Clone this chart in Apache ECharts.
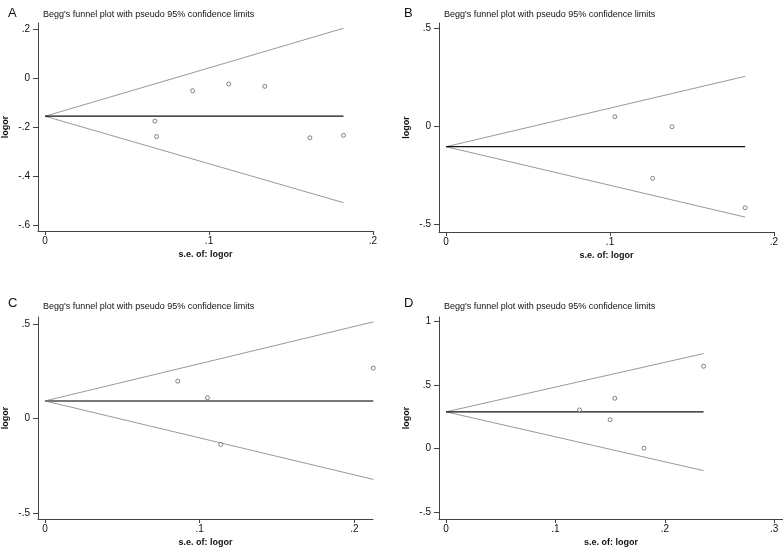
<!DOCTYPE html>
<html>
<head>
<meta charset="utf-8">
<script src="https://cdn.jsdelivr.net/npm/echarts@6/dist/echarts.min.js"></script>
<style>
html,body{margin:0;padding:0;background:#fff;}
#main{width:783px;height:548px;}
</style>
</head>
<body>
<div id="main"></div>
<script>
// ---- data ----
const panelLetters = ['A', 'B', 'C', 'D'];
const plotTitle = "Begg's funnel plot with pseudo 95% confidence limits";
const xAxisTitle = 's.e. of: logor';
const yAxisTitle = 'logor';

// Panel A
const seA = [0.067, 0.068, 0.090, 0.112, 0.134, 0.1615, 0.182];
const logorA = [-0.176, -0.239, -0.052, -0.0245, -0.034, -0.244, -0.234];
const funnelA = [-0.156, 0.182, 0.203, -0.509]; // pooled, max se, upper end, lower end
const xTicksA = [0, 0.1, 0.2];
const yTicksA = [-0.6, -0.4, -0.2, 0, 0.2];

// Panel B
const seB = [0.103, 0.1378, 0.126, 0.1824];
const logorB = [0.051, 0.0, -0.263, -0.413];
const funnelB = [-0.102, 0.1824, 0.257, -0.461];
const xTicksB = [0, 0.1, 0.2];
const yTicksB = [-0.5, 0, 0.5];

// Panel C
const seC = [0.0858, 0.105, 0.1136, 0.2122];
const logorC = [0.198, 0.110, -0.138, 0.267];
const funnelC = [0.093, 0.2122, 0.512, -0.323];
const xTicksC = [0, 0.1, 0.2];
const yTicksC = [-0.5, 0, 0.5];

// Panel D
const seD = [0.122, 0.1543, 0.150, 0.181, 0.2354];
const logorD = [0.303, 0.395, 0.226, 0.002, 0.647];
const funnelD = [0.288, 0.2354, 0.747, -0.175];
const xTicksD = [0, 0.1, 0.2, 0.3];
const yTicksD = [-0.5, 0, 0.5, 1];

// ---- layout (positions only) ----
const layout = [
  {left: 38, top: 23, width: 335, height: 208, xMin: -0.0043, xMax: 0.2, yMin: -0.6245, yMax: 0.2245, lx: 3, ly: 2, tx: 38, ty: 5, hColor: '#111', hWidth: 1.2},
  {left: 439, top: 23, width: 335, height: 209, xMin: -0.0043, xMax: 0.2, yMin: -0.537, yMax: 0.529, lx: 399, ly: 2, tx: 439, ty: 5, hColor: '#111', hWidth: 1.2},
  {left: 38, top: 317, width: 335, height: 207, xMin: -0.0045, xMax: 0.212, yMin: -0.533, yMax: 0.538, lx: 3, ly: 292, tx: 38, ty: 297, hColor: '#777', hWidth: 2},
  {left: 439, top: 317, width: 344, height: 208, xMin: -0.0064, xMax: 0.308, yMin: -0.556, yMax: 1.035, lx: 399, ly: 292, tx: 439, ty: 297, hColor: '#111', hWidth: 1.2}
];

const panels = [
  {se: seA, logor: logorA, funnel: funnelA, xt: xTicksA, yt: yTicksA},
  {se: seB, logor: logorB, funnel: funnelB, xt: xTicksB, yt: yTicksB},
  {se: seC, logor: logorC, funnel: funnelC, xt: xTicksC, yt: yTicksC},
  {se: seD, logor: logorD, funnel: funnelD, xt: xTicksD, yt: yTicksD}
];

function fmt(v) {
  if (v === 0) return '0';
  return String(v).replace('0.', '.');
}

const FONT = '"Liberation Sans", Arial, sans-serif';
const grids = [], xAxes = [], yAxes = [], series = [], titles = [];

panels.forEach((p, i) => {
  const L = layout[i];
  grids.push({left: L.left, top: L.top, width: L.width, height: L.height, containLabel: false});
  titles.push({text: panelLetters[i], left: L.lx, top: L.ly, textStyle: {fontFamily: FONT, fontSize: 13, fontWeight: 'normal', color: '#111'}});
  titles.push({text: plotTitle, left: L.tx, top: L.ty, textStyle: {fontFamily: FONT, fontSize: 9, fontWeight: 'normal', color: '#111'}});
  xAxes.push({
    type: 'value', gridIndex: i, min: L.xMin, max: L.xMax,
    name: xAxisTitle, nameLocation: 'middle', nameGap: 19,
    nameTextStyle: {fontFamily: FONT, fontSize: 9, color: '#111', fontWeight: 'bold'},
    axisLine: {show: true, onZero: false, lineStyle: {color: '#444', width: 1}},
    axisTick: {show: true, length: 4, customValues: p.xt, lineStyle: {color: '#444'}},
    axisLabel: {customValues: p.xt, formatter: fmt, margin: 5, fontFamily: FONT, fontSize: 10, color: '#111', showMinLabel: true, showMaxLabel: true},
    splitLine: {show: false}
  });
  yAxes.push({
    type: 'value', gridIndex: i, min: L.yMin, max: L.yMax,
    name: yAxisTitle, nameLocation: 'middle', nameGap: 28, nameRotate: 90,
    nameTextStyle: {fontFamily: FONT, fontSize: 9, color: '#111', fontWeight: 'bold'},
    axisLine: {show: true, onZero: false, lineStyle: {color: '#444', width: 1}},
    axisTick: {show: true, length: 5, customValues: p.yt, lineStyle: {color: '#444'}},
    axisLabel: {customValues: p.yt, formatter: fmt, margin: 8, fontFamily: FONT, fontSize: 10, color: '#111'},
    splitLine: {show: false}
  });
  const [pooled, seMax, upEnd, loEnd] = p.funnel;
  const lineBase = {type: 'line', xAxisIndex: i, yAxisIndex: i, symbol: 'none', silent: true, animation: false};
  series.push(Object.assign({}, lineBase, {data: [[0, pooled], [seMax, upEnd]], lineStyle: {color: '#999', width: 1}}));
  series.push(Object.assign({}, lineBase, {data: [[0, pooled], [seMax, loEnd]], lineStyle: {color: '#999', width: 1}}));
  series.push(Object.assign({}, lineBase, {data: [[0, pooled], [seMax, pooled]], lineStyle: {color: L.hColor, width: L.hWidth}}));
  series.push({
    type: 'scatter', xAxisIndex: i, yAxisIndex: i, animation: false, z: 5,
    data: p.se.map((s, k) => [s, p.logor[k]]),
    symbol: 'circle', symbolSize: 4,
    itemStyle: {color: '#fff', borderColor: '#555', borderWidth: 0.9},
    clip: false
  });
});

const chart = echarts.init(document.getElementById('main'), null, {renderer: 'canvas'});
chart.setOption({
  backgroundColor: '#fff',
  animation: false,
  title: titles,
  grid: grids,
  xAxis: xAxes,
  yAxis: yAxes,
  series: series
});
</script>
</body>
</html>
